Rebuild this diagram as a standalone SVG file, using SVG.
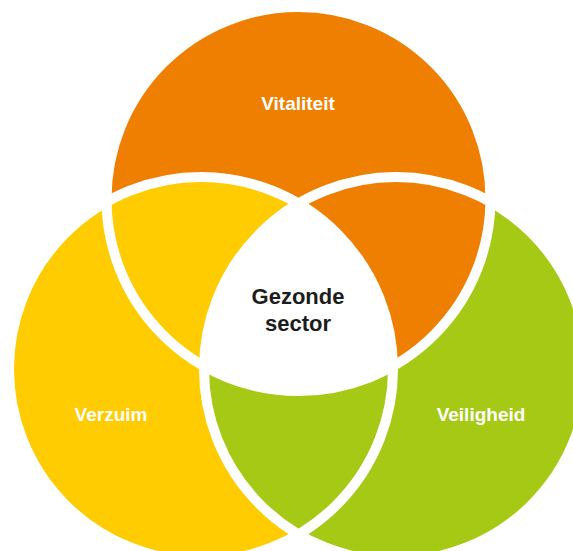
<svg xmlns="http://www.w3.org/2000/svg" width="573" height="551" viewBox="0 0 573 551">
  <style>
    .orange { fill: #EF7F00; }
    .yellow { fill: #FECC00; }
    .green { fill: #A6C916; }
    .outline { fill: none; stroke: #FFFFFF; stroke-width: 10; }
    .label { font-family: "Liberation Sans", Arial, sans-serif; font-weight: bold; font-size: 19px; fill: #FFFFFF; text-anchor: middle; }
    .center-label { font-family: "Liberation Sans", Arial, sans-serif; font-weight: bold; font-size: 22px; fill: #1D1D1B; text-anchor: middle; }
  </style>
  <defs>
    <clipPath id="clipGreen"><circle cx="396" cy="369" r="192"/></clipPath>
    <clipPath id="clipYellow"><circle cx="201" cy="369" r="192"/></clipPath>
  </defs>
  <rect width="573" height="551" fill="#FFFFFF"/>

  <g id="node-vitaliteit">
    <circle class="orange" cx="298.5" cy="199" r="192"/>
  </g>
  <g id="node-verzuim">
    <circle class="yellow" cx="201" cy="369" r="192"/>
  </g>
  <g id="node-veiligheid">
    <circle class="green" cx="396" cy="369" r="192"/>
    <!-- orange over green in the orange/green overlap -->
    <circle class="orange" cx="298.5" cy="199" r="192" clip-path="url(#clipGreen)"/>
  </g>
  <g id="node-gezonde-sector">
    <g clip-path="url(#clipGreen)">
      <circle fill="#FFFFFF" cx="298.5" cy="199" r="192" clip-path="url(#clipYellow)"/>
    </g>
  </g>

  <g id="connectors">
    <circle class="outline" cx="298.5" cy="199" r="192"/>
    <circle class="outline" cx="201" cy="369" r="192"/>
    <circle class="outline" cx="396" cy="369" r="192"/>
  </g>

  <g id="labels">
    <text class="label" x="298" y="110">Vitaliteit</text>
    <text class="label" x="111" y="421">Verzuim</text>
    <text class="label" x="481" y="421">Veiligheid</text>
    <text class="center-label" x="298" y="304">Gezonde</text>
    <text class="center-label" x="298" y="331">sector</text>
  </g>
</svg>
